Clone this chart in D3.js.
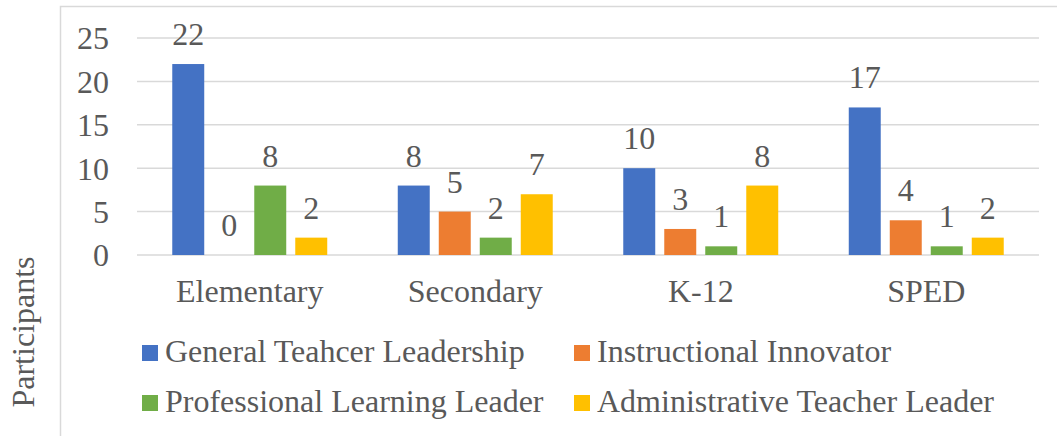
<!DOCTYPE html>
<html>
<head>
<meta charset="utf-8">
<script src="https://cdn.jsdelivr.net/npm/d3@7"></script>
<style>
  body { margin: 0; background: #fff; }
</style>
</head>
<body>
<svg id="chart"></svg>
<script>
var categories = ['Elementary', 'Secondary', 'K-12', 'SPED'];
var seriesNames = ['General Teahcer Leadership', 'Instructional Innovator',
                   'Professional Learning Leader', 'Administrative Teacher Leader'];
var seriesColors = ['#4472C4', '#ED7D31', '#70AD47', '#FFC000'];
var generalTeacher = [22, 8, 10, 17];
var instructional = [0, 5, 3, 4];
var professional = [8, 2, 1, 1];
var administrative = [2, 7, 8, 2];
var yTicks = [0, 5, 10, 15, 20, 25];

var series = [generalTeacher, instructional, professional, administrative];

var FONT = 'Liberation Serif',
    FS = 32,
    TXT = '#595959';

var width = 1057, height = 436;
var svg = d3.select('#chart').attr('width', width).attr('height', height);

function styleText(sel){
  return sel.attr('font-family', FONT).attr('font-size', FS).attr('fill', TXT);
}

// chart frame
svg.append('rect')
  .attr('x', 60.5).attr('y', 6.5)
  .attr('width', 1100).attr('height', 500)
  .attr('fill', 'none').attr('stroke', '#d9d9d9').attr('stroke-width', 1.5);

var x0 = d3.scaleBand().domain(categories).range([137, 1039]);
var x1 = d3.scaleBand().domain(d3.range(series.length))
  .range([0, x0.bandwidth()]).paddingInner(0.22).paddingOuter(0.86);
var y = d3.scaleLinear().domain([0, 25]).range([255, 38]);

// gridlines
svg.append('g').selectAll('line')
  .data(yTicks)
  .enter()
    .append('line')
    .attr('x1', 137).attr('x2', 1039)
    .attr('y1', function(d){ return y(d); })
    .attr('y2', function(d){ return y(d); })
    .attr('stroke', '#d9d9d9').attr('stroke-width', 1.5);

// y axis labels
var yAxis = svg.append('g')
  .attr('transform', 'translate(109,0)')
  .call(d3.axisLeft(y).tickValues(yTicks).tickSize(0).tickPadding(0));
yAxis.select('.domain').remove();
yAxis.attr('font-family', FONT).attr('font-size', FS);
styleText(yAxis.selectAll('text')).attr('dy', '0.34em');

// x category labels
var xAxis = svg.append('g')
  .attr('transform', 'translate(0,255)')
  .call(d3.axisBottom(x0).tickSize(0).tickPadding(0));
xAxis.select('.domain').remove();
xAxis.attr('font-family', FONT).attr('font-size', FS);
styleText(xAxis.selectAll('text')).attr('dy', null).attr('y', 47);

// bars
var groups = svg.append('g').selectAll('g')
  .data(categories)
  .enter()
    .append('g')
    .attr('transform', function(c){ return 'translate(' + x0(c) + ',0)'; });

function cells(c, ci){
  return series.map(function(s, si){ return { s: si, v: s[ci] }; });
}

groups.selectAll('rect')
  .data(cells)
  .enter()
    .append('rect')
    .attr('x', function(d){ return x1(d.s); })
    .attr('width', x1.bandwidth())
    .attr('y', function(d){ return y(d.v); })
    .attr('height', function(d){ return y(0) - y(d.v); })
    .attr('fill', function(d){ return seriesColors[d.s]; });

styleText(groups.selectAll('text.val')
  .data(cells)
  .enter()
    .append('text')
    .attr('class', 'val')
    .attr('x', function(d){ return x1(d.s) + x1.bandwidth() / 2; })
    .attr('y', function(d){ return y(d.v) - 19; })
    .attr('text-anchor', 'middle')
    .text(function(d){ return d.v; }));

// y axis title
styleText(svg.append('text')
  .attr('transform', 'translate(34,332) rotate(-90)')
  .attr('text-anchor', 'middle')
  .text('Participants'));

// legend
var legendPos = [[142, 345], [574, 345], [142, 395], [574, 395]];
var legend = svg.append('g').selectAll('g')
  .data(seriesNames)
  .enter()
    .append('g')
    .attr('transform', function(d, i){ return 'translate(' + legendPos[i][0] + ',' + legendPos[i][1] + ')'; });

legend.append('rect')
  .attr('width', 16).attr('height', 16)
  .attr('fill', function(d, i){ return seriesColors[i]; });

styleText(legend.append('text')
  .attr('x', 23).attr('y', 17)
  .text(function(d){ return d; }));
</script>
</body>
</html>
